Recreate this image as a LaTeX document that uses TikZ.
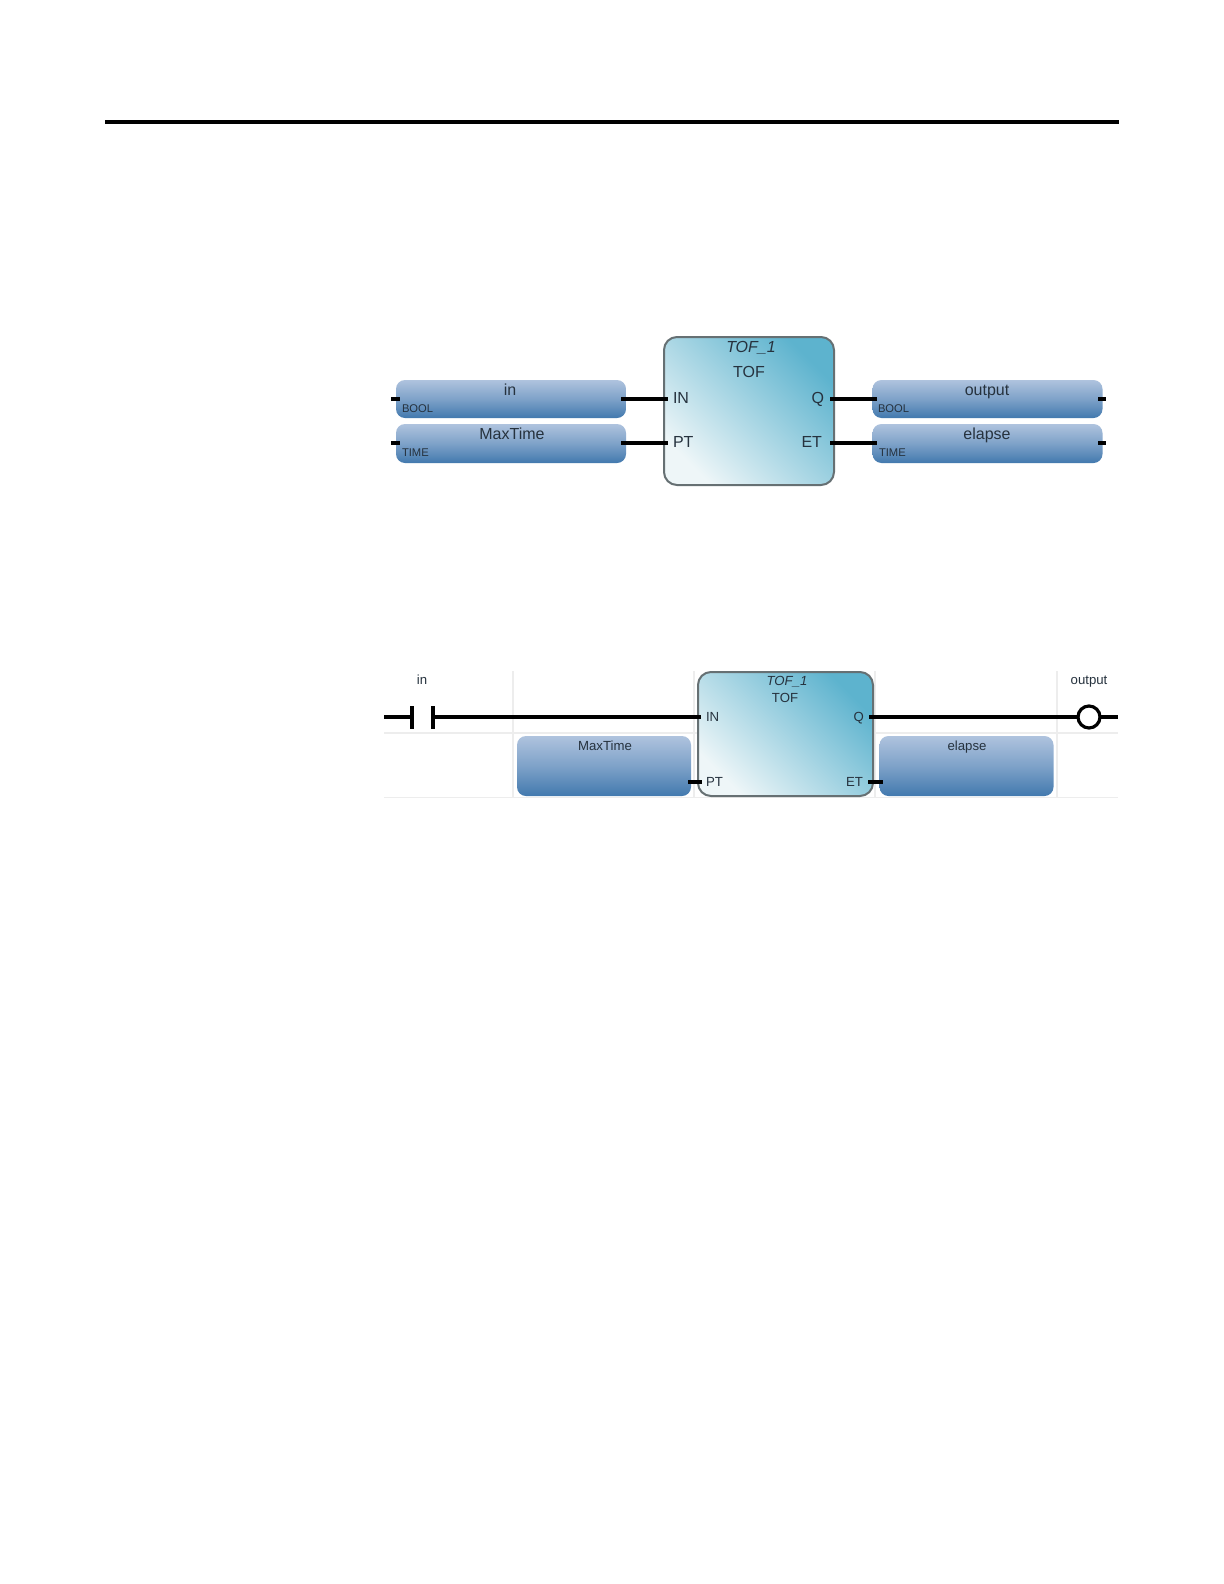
\documentclass[tikz,border=0pt]{standalone}
\usepackage{fontspec}
\setmainfont{Liberation Sans}
\definecolor{varTop}{HTML}{AFC3DE}
\definecolor{varBot}{HTML}{4279AE}
\definecolor{blkA}{HTML}{5DB3CE}
\definecolor{blkB}{HTML}{EEF6F8}
\definecolor{blkEdge}{HTML}{667073}
\definecolor{gridc}{HTML}{EDEDED}
\definecolor{txt}{HTML}{26323E}
\tikzset{
  varbox/.style={inner sep=0pt,outer sep=0pt,rounded corners=4.5pt,top color=varTop,bottom color=varBot,middle color=varTop!55!varBot},
  blockA/.style={draw=blkEdge,line width=1pt,inner sep=0pt,outer sep=0pt,rounded corners=6.5pt,shading=axis,top color=blkA,bottom color=blkB,shading angle=-45},
  wire/.style={line width=1.6pt,black},
  grid line/.style={gridc,line width=0.6pt},
  lab/.style={inner sep=0pt,outer sep=0pt,text=txt,text height=0.72em,text depth=0.2em,yshift=0.5pt,font=\fontsize{8}{9.6}\selectfont},
  labS/.style={lab,font=\fontsize{6.6}{8}\selectfont},
  typ/.style={lab,anchor=west,yshift=0.5pt,font=\fontsize{5.6}{6.5}\selectfont},
}
\begin{document}
\begin{tikzpicture}[x=0.5pt,y=-0.5pt]
\useasboundingbox[fill=white] (0,0) rectangle (1224,1584);
% page rule
\coordinate (ruleL) at (105,122);
\coordinate (ruleR) at (1119,122);
\draw[line width=1.8pt,black] (ruleL) -- (ruleR);

% ---------- upper diagram ----------
\node[varbox,minimum width=115pt,minimum height=19pt] (vIn) at (511,399) {};
\node[varbox,minimum width=115pt,minimum height=19.5pt] (vMax) at (511,443.5) {};
\node[varbox,minimum width=115pt,minimum height=19pt] (vOut) at (987.5,399) {};
\node[varbox,minimum width=115pt,minimum height=19.5pt] (vEla) at (987.5,443.5) {};
\node[blockA,minimum width=85pt,minimum height=74pt] (tof) at (749,411) {};

\node[lab] (tInst) at (751,348) {\itshape TOF\_1};
\node[lab] (tType) at (749,373) {TOF};
\node[lab,anchor=west] (pIN) at (673,399) {IN};
\node[lab,anchor=west] (pPT) at (673,443) {PT};
\node[lab,anchor=east] (pQ) at (824,399) {Q};
\node[lab,anchor=east] (pET) at (822,443) {ET};
\node[lab] (nIn) at (510,391) {in};
\node[lab] (nMax) at (512,435) {MaxTime};
\node[lab] (nOut) at (987,391) {output};
\node[lab] (nEla) at (987,435) {elapse};
\node[typ] (tyA) at (402,409) {BOOL};
\node[typ] (tyB) at (402,453) {TIME};
\node[typ] (tyC) at (878,409) {BOOL};
\node[typ] (tyD) at (879,453) {TIME};

\coordinate (a1) at (391,399); \coordinate (a2) at (400,399);
\coordinate (b1) at (391,443); \coordinate (b2) at (400,443);
\coordinate (c1) at (621,399); \coordinate (c2) at (668,399);
\coordinate (d1) at (621,443); \coordinate (d2) at (668,443);
\coordinate (e1) at (830,399); \coordinate (e2) at (877,399);
\coordinate (f1) at (830,443); \coordinate (f2) at (877,443);
\coordinate (g1) at (1098,399); \coordinate (g2) at (1106,399);
\coordinate (h1) at (1098,443); \coordinate (h2) at (1106,443);
\foreach \p/\q in {a1/a2,b1/b2,c1/c2,d1/d2,e1/e2,f1/f2,g1/g2,h1/h2}
  \draw[wire] (\p) -- (\q);

% ---------- lower diagram ----------
\coordinate (gv1t) at (513,671); \coordinate (gv1b) at (513,798);
\coordinate (gv2t) at (694,671); \coordinate (gv2b) at (694,798);
\coordinate (gv3t) at (875,671); \coordinate (gv3b) at (875,798);
\coordinate (gv4t) at (1057,671); \coordinate (gv4b) at (1057,798);
\coordinate (gh1l) at (384,733); \coordinate (gh1r) at (1118,733);
\coordinate (gh2l) at (384,797.5); \coordinate (gh2r) at (1118,797.5);
\foreach \p/\q in {gv1t/gv1b,gv2t/gv2b,gv3t/gv3b,gv4t/gv4b,gh1l/gh1r,gh2l/gh2r}
  \draw[grid line] (\p) -- (\q);

\node[varbox,minimum width=87pt,minimum height=30pt] (bMax) at (604,766) {};
\node[varbox,minimum width=87pt,minimum height=30pt] (bEla) at (966.5,766) {};
\node[blockA,minimum width=87.5pt,minimum height=62pt] (tofL) at (785.5,734) {};

\node[labS] (lInst) at (787,681) {\itshape TOF\_1};
\node[labS] (lType) at (785,698) {TOF};
\node[labS,anchor=west] (lIN) at (706,717) {IN};
\node[labS,anchor=west] (lPT) at (706,782) {PT};
\node[labS,anchor=east] (lQ) at (864,717) {Q};
\node[labS,anchor=east] (lET) at (863,782) {ET};
\node[labS] (lMax) at (605,746) {MaxTime};
\node[labS] (lEla) at (967,746) {elapse};
\node[labS] (lIn) at (422,680) {in};
\node[labS] (lOut) at (1089,680) {output};

% contact
\coordinate (w0) at (384,717);
\coordinate (k1) at (412,717);
\coordinate (k2) at (433,717);
\coordinate (k1t) at (412,706); \coordinate (k1b) at (412,729);
\coordinate (k2t) at (433,706); \coordinate (k2b) at (433,729);
\coordinate (inpin) at (701,717);
\coordinate (qpin) at (869,717);
\coordinate (wEnd) at (1118,717);
\node[circle,draw=black,line width=1.6pt,fill=white,minimum size=11pt,inner sep=0pt,outer sep=0pt] (coil) at (1089,717) {};
\draw[wire] (w0) -- (k1);
\draw[wire] (k1t) -- (k1b);
\draw[wire] (k2t) -- (k2b);
\draw[wire] (k2) -- (inpin);
\draw[wire] (qpin) -- (coil);
\draw[wire] (coil) -- (wEnd);
\coordinate (s1) at (688,782); \coordinate (s2) at (702,782);
\coordinate (s3) at (868,782); \coordinate (s4) at (883,782);
\draw[wire] (s1) -- (s2);
\draw[wire] (s3) -- (s4);
\end{tikzpicture}
\end{document}
